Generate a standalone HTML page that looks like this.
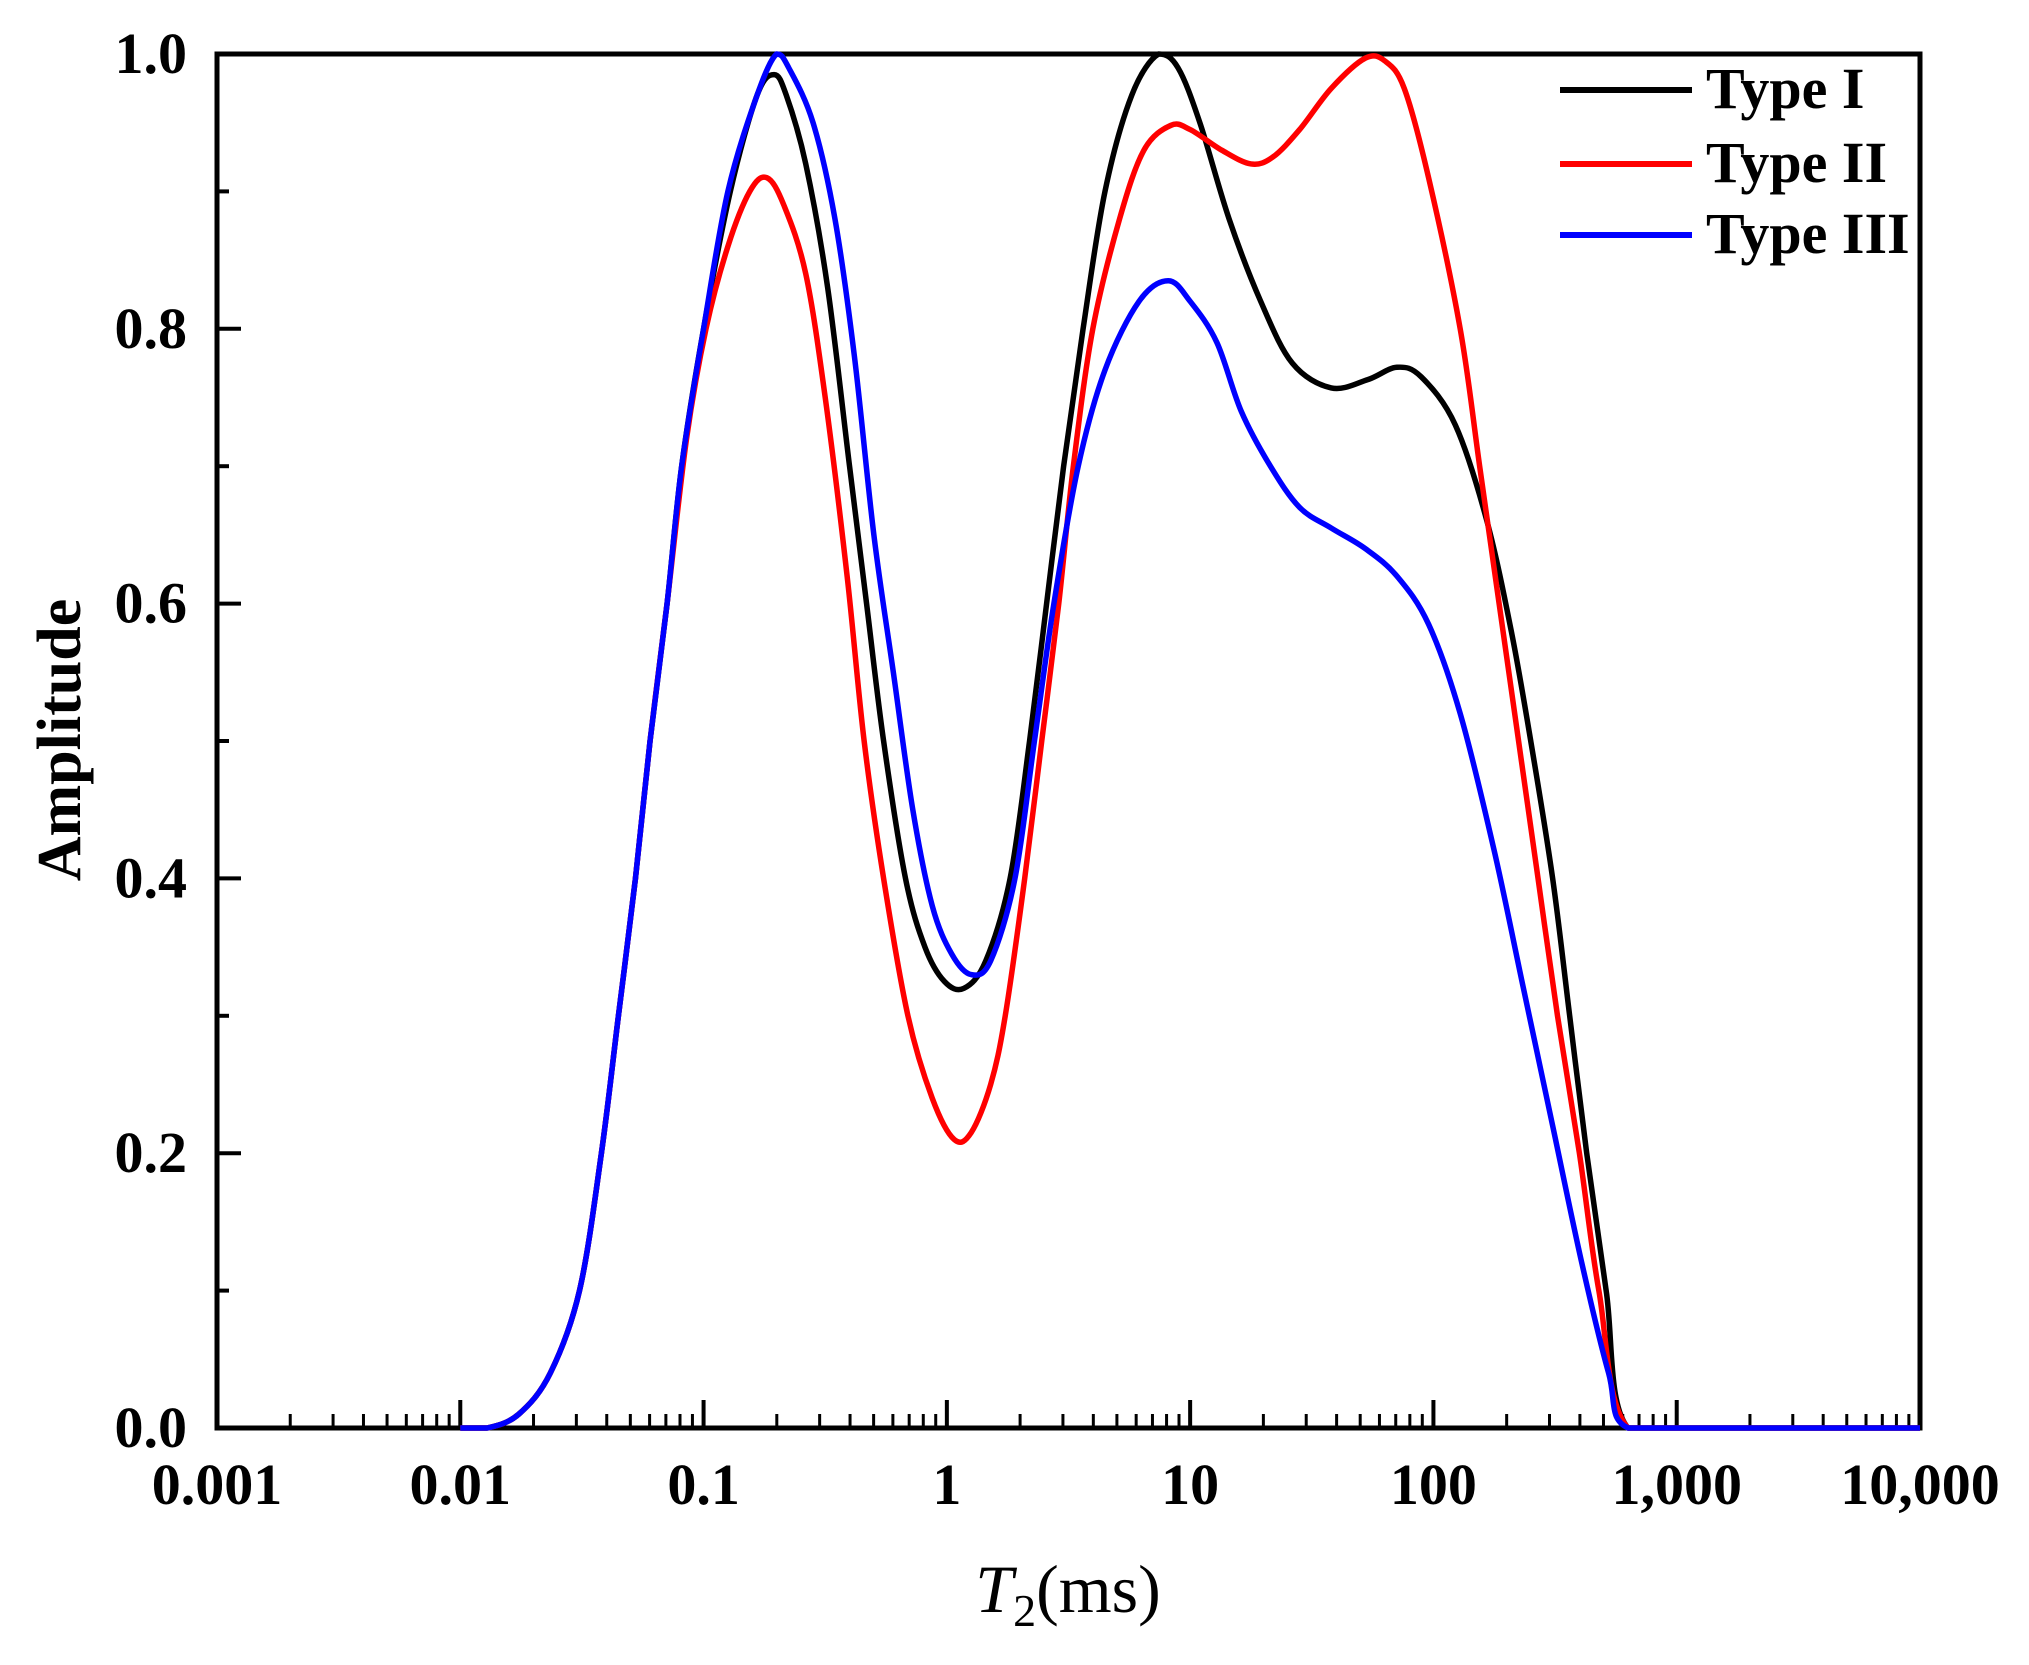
<!DOCTYPE html>
<html><head><meta charset="utf-8">
<style>
html,body{margin:0;padding:0;background:#fff;}
svg{display:block;}
text{font-family:"Liberation Serif",serif;}
</style></head>
<body>
<svg id="chart" width="2029" height="1665" viewBox="0 0 2029 1665" xmlns="http://www.w3.org/2000/svg">
<g id="axes"></g>
<g id="series"></g>
<g id="legend">
  <line x1="1560" y1="90" x2="1692" y2="90" stroke="#000" stroke-width="6"/>
  <text x="1706" y="108" font-size="58" font-weight="bold">Type I</text>
  <line x1="1560" y1="164" x2="1692" y2="164" stroke="#f00" stroke-width="6"/>
  <text x="1706" y="182" font-size="58" font-weight="bold">Type II</text>
  <line x1="1560" y1="235" x2="1692" y2="235" stroke="#00f" stroke-width="6"/>
  <text x="1706" y="253" font-size="58" font-weight="bold">Type III</text>
</g>
<text x="1068" y="1612" font-size="68" text-anchor="middle"><tspan font-style="italic">T</tspan><tspan font-size="46" dy="14">2</tspan><tspan dy="-14">(ms)</tspan></text>
<text transform="translate(80,740) rotate(-90)" font-size="62" font-weight="bold" text-anchor="middle">Amplitude</text>
</svg>
<script>
// log10(T2) positions and amplitudes
const xLog1 = [-2,-1.89,-1.76,-1.63,-1.51,-1.42,-1.35,-1.28,-1.22,-1.15,-1.09,-1.0,-0.89,-0.78,-0.71,-0.66,-0.58,-0.49,-0.40,-0.33,-0.26,-0.17,-0.09,-0.01,0.07,0.16,0.26,0.34,0.41,0.48,0.56,0.65,0.76,0.87,0.95,1.04,1.16,1.29,1.42,1.58,1.73,1.85,1.95,2.09,2.22,2.32,2.40,2.49,2.56,2.63,2.71,2.80,3.2,4];
const typeI = [0,0,0.01,0.04,0.1,0.2,0.3,0.4,0.5,0.6,0.7,0.8,0.9,0.97,0.985,0.97,0.92,0.83,0.7,0.6,0.5,0.4,0.35,0.325,0.32,0.34,0.4,0.5,0.6,0.7,0.8,0.9,0.97,1.0,0.99,0.95,0.88,0.82,0.775,0.757,0.763,0.772,0.765,0.73,0.66,0.58,0.5,0.4,0.3,0.2,0.1,0,0,0];
const xLog2 = [-2,-1.89,-1.76,-1.63,-1.51,-1.42,-1.35,-1.28,-1.22,-1.15,-1.07,-0.99,-0.90,-0.81,-0.74,-0.67,-0.58,-0.50,-0.41,-0.34,-0.26,-0.16,-0.06,0.03,0.10,0.18,0.24,0.32,0.39,0.46,0.52,0.60,0.71,0.81,0.92,1.0,1.13,1.25,1.34,1.45,1.58,1.72,1.80,1.88,1.98,2.11,2.19,2.27,2.35,2.43,2.51,2.60,2.68,2.80,3.2,4];
const typeII = [0,0,0.01,0.04,0.1,0.2,0.3,0.4,0.5,0.6,0.72,0.8,0.86,0.9,0.91,0.89,0.84,0.75,0.62,0.5,0.4,0.3,0.24,0.21,0.215,0.25,0.3,0.4,0.5,0.6,0.7,0.8,0.88,0.93,0.948,0.945,0.93,0.92,0.925,0.945,0.975,0.997,0.995,0.975,0.91,0.8,0.7,0.6,0.5,0.4,0.3,0.2,0.1,0,0,0];
const xLog3 = [-2,-1.89,-1.76,-1.63,-1.51,-1.42,-1.35,-1.28,-1.22,-1.15,-1.09,-1.0,-0.90,-0.78,-0.70,-0.65,-0.55,-0.46,-0.38,-0.30,-0.22,-0.14,-0.06,0.02,0.10,0.18,0.28,0.36,0.44,0.54,0.65,0.79,0.91,1.0,1.11,1.21,1.33,1.45,1.58,1.72,1.85,1.98,2.11,2.25,2.37,2.49,2.61,2.72,2.80,3.2,4];
const typeIII = [0,0,0.01,0.04,0.1,0.2,0.3,0.4,0.5,0.6,0.7,0.8,0.9,0.97,1.0,0.99,0.95,0.88,0.78,0.65,0.55,0.45,0.38,0.345,0.33,0.34,0.4,0.5,0.6,0.7,0.77,0.82,0.835,0.82,0.79,0.74,0.7,0.67,0.655,0.64,0.62,0.585,0.52,0.42,0.32,0.22,0.12,0.04,0,0,0];
const xTickLabels = ["0.001","0.01","0.1","1","10","100","1,000","10,000"];
const yTickLabels = ["0.0","0.2","0.4","0.6","0.8","1.0"];

const L=217,R=1920,T=54,B=1428;
const xs = v => L + (v+3)/7*(R-L);
const ys = v => B - v*(B-T);
const NS="http://www.w3.org/2000/svg";
const axes=document.getElementById('axes');
function mk(tag,attrs,parent){const e=document.createElementNS(NS,tag);for(const k in attrs)e.setAttribute(k,attrs[k]);parent.appendChild(e);return e;}

for(let d=-3;d<=4;d++){
  const t=mk('line',{x1:xs(d),x2:xs(d),y1:B,y2:B-28,stroke:'#000','stroke-width':4},axes);
  
  
  const lb=mk('text',{x:xs(d),y:1504,'font-size':58,'font-weight':'bold','text-anchor':'middle'},axes);
  lb.textContent=xTickLabels[d+3];
  
  
  if(d<4){for(let m=2;m<=9;m++){
    const mt=mk('line',{x1:xs(d+Math.log10(m)),x2:xs(d+Math.log10(m)),y1:B,y2:B-14,stroke:'#000','stroke-width':3},axes);
    
    
  }}
}
for(let i=0;i<=10;i++){
  const v=i/10, major=i%2===0;
  const t=mk('line',{x1:L,x2:L+(major?24:12),y1:ys(v),y2:ys(v),stroke:'#000','stroke-width':4},axes);
  
  
  if(major){
    const lb=mk('text',{x:187,y:ys(v)+19,'font-size':58,'font-weight':'bold','text-anchor':'end'},axes);
    lb.textContent=yTickLabels[i/2];
    
    
  }
}
const frame=mk('rect',{x:L,y:T,width:R-L,height:B-T,fill:'none',stroke:'#000','stroke-width':5},axes);



function pathFor(xv,yv){
  const p=xv.map((x,i)=>[xs(x),ys(yv[i])]);
  let d=`M${p[0][0]},${p[0][1]}`;
  for(let i=0;i<p.length-1;i++){
    const p0=p[Math.max(0,i-1)],p1=p[i],p2=p[i+1],p3=p[Math.min(p.length-1,i+2)];
    let c1=[p1[0]+(p2[0]-p0[0])/6,p1[1]+(p2[1]-p0[1])/6];
    let c2=[p2[0]-(p3[0]-p1[0])/6,p2[1]-(p3[1]-p1[1])/6];
    c1[0]=Math.min(Math.max(c1[0],p1[0]),p2[0]);c2[0]=Math.min(Math.max(c2[0],p1[0]),p2[0]);
    c1[1]=Math.min(Math.max(c1[1],T),B);c2[1]=Math.min(Math.max(c2[1],T),B);
    d+=` C${c1[0]},${c1[1]} ${c2[0]},${c2[1]} ${p2[0]},${p2[1]}`;
  }
  return d;
}
const sg=document.getElementById('series');
const s1=mk('path',{d:pathFor(xLog1,typeI),fill:'none',stroke:'#000','stroke-width':5.5,'stroke-linejoin':'round'},sg);


const s2=mk('path',{d:pathFor(xLog2,typeII),fill:'none',stroke:'#f00','stroke-width':5.5,'stroke-linejoin':'round'},sg);


const s3=mk('path',{d:pathFor(xLog3,typeIII),fill:'none',stroke:'#00f','stroke-width':5.5,'stroke-linejoin':'round'},sg);


</script>
</body></html>
